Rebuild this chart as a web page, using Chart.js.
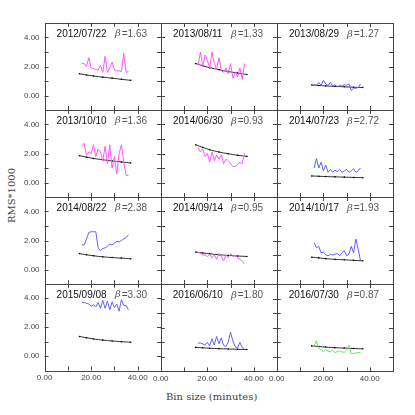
<!doctype html>
<html lang="en">
  <head>
    <meta charset="utf-8">
    <title>RMS vs bin size</title>
    <script src="https://cdn.jsdelivr.net/npm/chart.js@4.4.1/dist/chart.umd.min.js"></script>
    <style>
      body { margin:0; background:#fff; }
      #wrap { position:relative; width:415px; height:415px; overflow:hidden; }
      #wrap canvas { position:absolute; }
      .axtitle { position:absolute; font-family:"DejaVu Serif", serif; font-size:10px; color:#444; white-space:nowrap; }
    </style>
  </head>
  <body>
    <div id="wrap">
      <div class="axtitle" style="left:166px; top:391px;">Bin size (minutes)</div>
      <div class="axtitle" style="left:-16px; top:190px; transform:rotate(-90deg);">RMS*1000</div>
    </div>

  <script>

    // panel labels
    let dates = ['2012/07/22','2013/08/11','2013/08/29',
                 '2013/10/10','2014/06/30','2014/07/23',
                 '2014/08/22','2014/09/14','2014/10/17',
                 '2015/09/08','2016/06/10','2016/07/30'];
    let betas = ['1.63','1.33','1.27','1.36','0.93','2.72','2.38','0.95','1.93','3.30','1.80','0.87'];
    let lineColors = ['#ff55ff','#ff55ff','#6060ff',
                      '#ff55ff','#ff55ff','#6060ff',
                      '#6060ff','#ff55ff','#6060ff',
                      '#6060ff','#6060ff','#55ee55'];

    // bin sizes (minutes)
    let binX = [16,17,18,19,20,21,22,23,24,25,26,27,28,29,30,31,32,33,34,35,36];
    let fitX = [15,18,21,25,29,33,37];

    // measured RMS*1000 per bin
    let rms = [
      [2.2,2.2,2.0,2.6,1.9,1.85,1.8,1.75,2.1,1.6,2.7,1.6,1.9,2.3,1.75,1.7,1.7,1.65,2.9,1.6,1.65],
      [2.1,3.0,2.0,2.8,2.4,1.9,3.0,2.2,1.8,2.6,1.7,1.6,1.9,1.5,2.2,1.2,1.6,1.3,1.9,1.1,2.2],
      [0.75,0.7,0.9,0.7,1.05,0.8,0.7,0.9,0.65,0.75,0.6,0.7,0.65,0.75,0.7,0.8,0.35,0.5,0.5,0.55,0.8],
      [2.5,2.7,1.9,2.1,2.0,2.6,1.8,2.3,2.1,1.5,2.5,1.3,2.6,1.0,1.8,0.6,2.0,2.6,1.4,0.5,0.5],
      [2.4,2.1,2.3,1.8,2.0,1.4,2.1,1.5,1.9,1.6,1.9,1.3,1.6,1.5,1.3,1.1,1.1,1.25,1.4,1.3,2.0],
      [1.0,1.65,1.0,1.4,0.8,1.2,0.7,0.9,0.7,0.85,0.75,0.9,0.7,0.8,0.9,0.7,0.8,0.95,0.7,0.8,1.0],
      [1.7,1.7,2.1,2.55,2.6,2.6,2.6,1.5,1.3,1.45,1.5,1.6,1.75,1.7,1.8,1.95,1.9,2.0,2.1,2.2,2.4],
      [1.2,1.1,1.0,1.0,0.9,1.05,0.8,1.0,0.7,1.1,0.9,0.6,1.0,0.8,1.1,0.9,1.0,0.8,0.7,0.6,0.4],
      [1.85,1.5,1.6,1.15,1.2,1.0,0.95,1.05,1.0,1.05,1.1,0.95,1.15,1.3,0.95,1.05,1.6,1.15,2.1,1.4,0.6],
      [3.7,3.7,3.65,3.6,3.45,3.55,3.4,3.7,3.3,3.85,3.3,3.8,3.2,3.75,3.35,3.6,3.1,3.9,3.5,3.5,3.2],
      [0.95,0.95,0.9,0.8,1.0,0.75,1.25,0.8,1.4,0.9,1.3,0.8,0.7,1.0,1.7,1.1,0.7,0.6,1.0,0.65,0.55],
      [0.7,1.1,0.6,0.5,0.35,0.5,0.4,0.35,0.45,0.3,0.35,0.4,0.35,0.3,0.45,0.8,0.2,0.25,0.25,0.3,0.3]
    ];

    // fitted curves at fitX
    let fit = [
      [1.5,1.42,1.35,1.27,1.2,1.12,1.05],
      [2.2,2.05,1.92,1.78,1.65,1.55,1.45],
      [0.72,0.69,0.66,0.63,0.6,0.57,0.55],
      [1.85,1.75,1.66,1.57,1.49,1.42,1.35],
      [2.6,2.42,2.26,2.1,1.98,1.88,1.8],
      [0.45,0.43,0.41,0.39,0.37,0.35,0.33],
      [1.1,1.02,0.95,0.88,0.83,0.79,0.75],
      [1.2,1.14,1.08,1.02,0.97,0.93,0.9],
      [0.85,0.8,0.75,0.7,0.67,0.63,0.6],
      [1.35,1.26,1.18,1.1,1.04,0.99,0.95],
      [0.65,0.62,0.59,0.56,0.54,0.52,0.5],
      [0.75,0.71,0.67,0.63,0.6,0.57,0.55]
    ];

    let xTickLabels = [0,20,40];
    let yTickLabels = [0,2,4];

    const panelLeft = 45, panelTop = 23, panelW = 116, panelH = 87;

    // frame, inward ticks and panel captions
    const framePlugin = {
      id: 'frame',
      afterDraw(chart){
        const {ctx, chartArea:a, scales:{x, y}} = chart;
        const k = chart.options.plugins.frame.index;
        ctx.save();
        ctx.strokeStyle = '#444';
        ctx.lineWidth = 1;
        ctx.strokeRect(Math.round(a.left) + 0.5, Math.round(a.top) + 0.5, panelW, panelH);
        ctx.beginPath();
        [10,20,30,40].forEach(v => {
          const px = Math.round(x.getPixelForValue(v)) + 0.5;
          ctx.moveTo(px, a.bottom); ctx.lineTo(px, a.bottom - 4);
          ctx.moveTo(px, a.top); ctx.lineTo(px, a.top + 4);
        });
        [0,1,2,3,4].forEach(v => {
          const py = Math.round(y.getPixelForValue(v)) + 0.5;
          ctx.moveTo(a.left, py); ctx.lineTo(a.left + 4, py);
          ctx.moveTo(a.right, py); ctx.lineTo(a.right - 4, py);
        });
        ctx.stroke();

        ctx.textBaseline = 'middle';
        ctx.fillStyle = '#111';
        ctx.font = '10px "Liberation Sans", Arial, sans-serif';
        ctx.fillText(dates[k], a.left + 12, a.top + 11);

        ctx.fillStyle = '#555';
        const num = '=' + betas[k];
        const numW = ctx.measureText(num).width;
        ctx.fillText(num, a.right - 14 - numW, a.top + 11);
        ctx.font = 'italic 10px "DejaVu Serif", serif';
        const bW = ctx.measureText('β').width;
        ctx.fillText('β', a.right - 14 - numW - bW - 1, a.top + 11);
        ctx.restore();
      }
    };

    function makeConfig(k, row, col){
      return {
        type: 'line',
        data: {
          datasets: [
            {
              data: binX.map((x, i) => ({x: x, y: rms[k][i]})),
              borderColor: lineColors[k],
              borderWidth: 1,
              pointRadius: 0,
              tension: 0
            },
            {
              data: fitX.map((x, i) => ({x: x, y: fit[k][i]})),
              borderColor: '#333',
              borderWidth: 1,
              pointRadius: 0.8,
              pointBackgroundColor: '#000',
              pointBorderWidth: 0,
              tension: 0.3
            }
          ]
        },
        options: {
          responsive: false,
          animation: false,
          layout: {padding: 0},
          plugins: {legend: {display: false}, tooltip: {enabled: false}, frame: {index: k}},
          scales: {
            x: {
              type: 'linear', min: 0, max: 50,
              grid: {display: false, drawTicks: false, tickLength: 0},
              border: {display: false},
              ticks: {
                display: row == 3, stepSize: 10, autoSkip: false, maxRotation: 0, padding: 3,
                color: '#444', font: {size: 8, family: '"Liberation Sans", Arial, sans-serif'},
                callback: v => xTickLabels.includes(v) ? v.toFixed(2) : ''
              }
            },
            y: {
              min: -1, max: 5,
              grid: {display: false, drawTicks: false, tickLength: 0},
              border: {display: false},
              ticks: {
                display: col == 0, stepSize: 1, autoSkip: false, padding: 5,
                color: '#444', font: {size: 8, family: '"Liberation Sans", Arial, sans-serif'},
                callback: v => yTickLabels.includes(v) ? v.toFixed(2) : ''
              }
            }
          }
        },
        plugins: [framePlugin]
      };
    }

    let wrap = document.getElementById('wrap');

    dates.forEach((d, k) => {
      const row = Math.floor(k / 3), col = k % 3;
      let cv = document.createElement('canvas');
      cv.width = 200; cv.height = 160;
      wrap.append(cv);

      // first pass: find how much room the axes take
      let probe = new Chart(cv.getContext('2d'), makeConfig(k, row, col));
      const a = probe.chartArea;
      const insetL = a.left, insetT = a.top;
      const insetR = 200 - a.right, insetB = 160 - a.bottom;
      probe.destroy();

      cv.width = Math.round(insetL + panelW + insetR);
      cv.height = Math.round(insetT + panelH + insetB);
      new Chart(cv.getContext('2d'), makeConfig(k, row, col));
      cv.style.left = (panelLeft + col * panelW - insetL) + 'px';
      cv.style.top = (panelTop + row * panelH - insetT) + 'px';
    });

  </script>
  </body>
</html>
